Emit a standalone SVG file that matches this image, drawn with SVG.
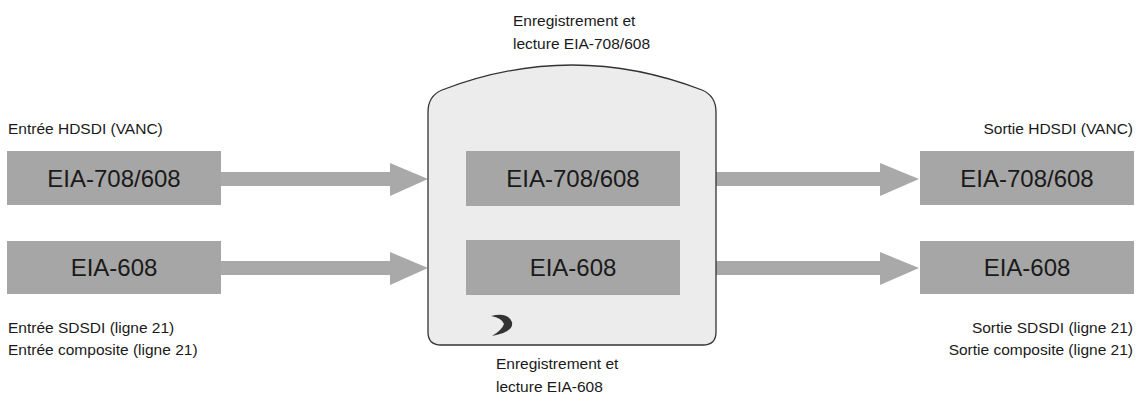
<svg xmlns="http://www.w3.org/2000/svg" width="1142" height="403" viewBox="0 0 1142 403">
<style>
.box{fill:#a6a6a6}
.t{font-family:"Liberation Sans",Arial,sans-serif;fill:#1a1a1a}
.big{font-size:24px;text-anchor:middle}
.sm{font-size:15.5px}
.arr{fill:#a9a9a9}
</style>
<rect width="1142" height="403" fill="#fff"/>
<g id="connectors">
<polygon class="arr" points="221,172 390,172 390,163 428,179 390,196 390,186 221,186"/>
<polygon class="arr" points="221,261 390,261 390,252 428,268 390,285 390,275 221,275"/>
<polygon class="arr" points="707,172 880,172 880,163 919,179 880,196 880,186 707,186"/>
<polygon class="arr" points="707,261 880,261 880,252 919,268 880,285 880,275 707,275"/>
</g>
<g id="recorder">
<path d="M428,112 Q428,96 442,90 Q572,40 702,90 Q716,96 716,112 L716,332 Q716,345 703,345 L441,345 Q428,345 428,332 Z" fill="#ececec" stroke="#333" stroke-width="1.3"/>
<path d="M491,316 Q508,312 512,322 Q514,332 492,336 Q502,330 504,324 Q502,318 491,316 Z" fill="#333"/>
<path d="M494,321 Q500,322 499,327 Q497,331 491,333 Q496,327 494,321 Z" fill="#ececec"/>
</g>
<g id="in1"><rect class="box" x="7" y="151" width="214" height="54"/><text class="t big" x="114" y="187">EIA-708/608</text></g>
<g id="in2"><rect class="box" x="7" y="241" width="214" height="53"/><text class="t big" x="114" y="276">EIA-608</text></g>
<g id="mid1"><rect class="box" x="466" y="151" width="214" height="55"/><text class="t big" x="573" y="187">EIA-708/608</text></g>
<g id="mid2"><rect class="box" x="466" y="240" width="214" height="55"/><text class="t big" x="573" y="276">EIA-608</text></g>
<g id="out1"><rect class="box" x="920" y="151" width="214" height="54"/><text class="t big" x="1027" y="187">EIA-708/608</text></g>
<g id="out2"><rect class="box" x="920" y="241" width="214" height="53"/><text class="t big" x="1027" y="276">EIA-608</text></g>
<g id="labels">
<text class="t sm" x="8" y="134">Entrée HDSDI (VANC)</text>
<text class="t sm" x="8" y="333">Entrée SDSDI (ligne 21)</text>
<text class="t sm" x="8" y="355">Entrée composite (ligne 21)</text>
<text class="t sm" x="1133" y="134" text-anchor="end">Sortie HDSDI (VANC)</text>
<text class="t sm" x="1133" y="333" text-anchor="end">Sortie SDSDI (ligne 21)</text>
<text class="t sm" x="1133" y="355" text-anchor="end">Sortie composite (ligne 21)</text>
<text class="t sm" x="513" y="26">Enregistrement et</text>
<text class="t sm" x="513" y="49">lecture EIA-708/608</text>
<text class="t sm" x="496" y="369">Enregistrement et</text>
<text class="t sm" x="496" y="392">lecture EIA-608</text>
</g>
</svg>
